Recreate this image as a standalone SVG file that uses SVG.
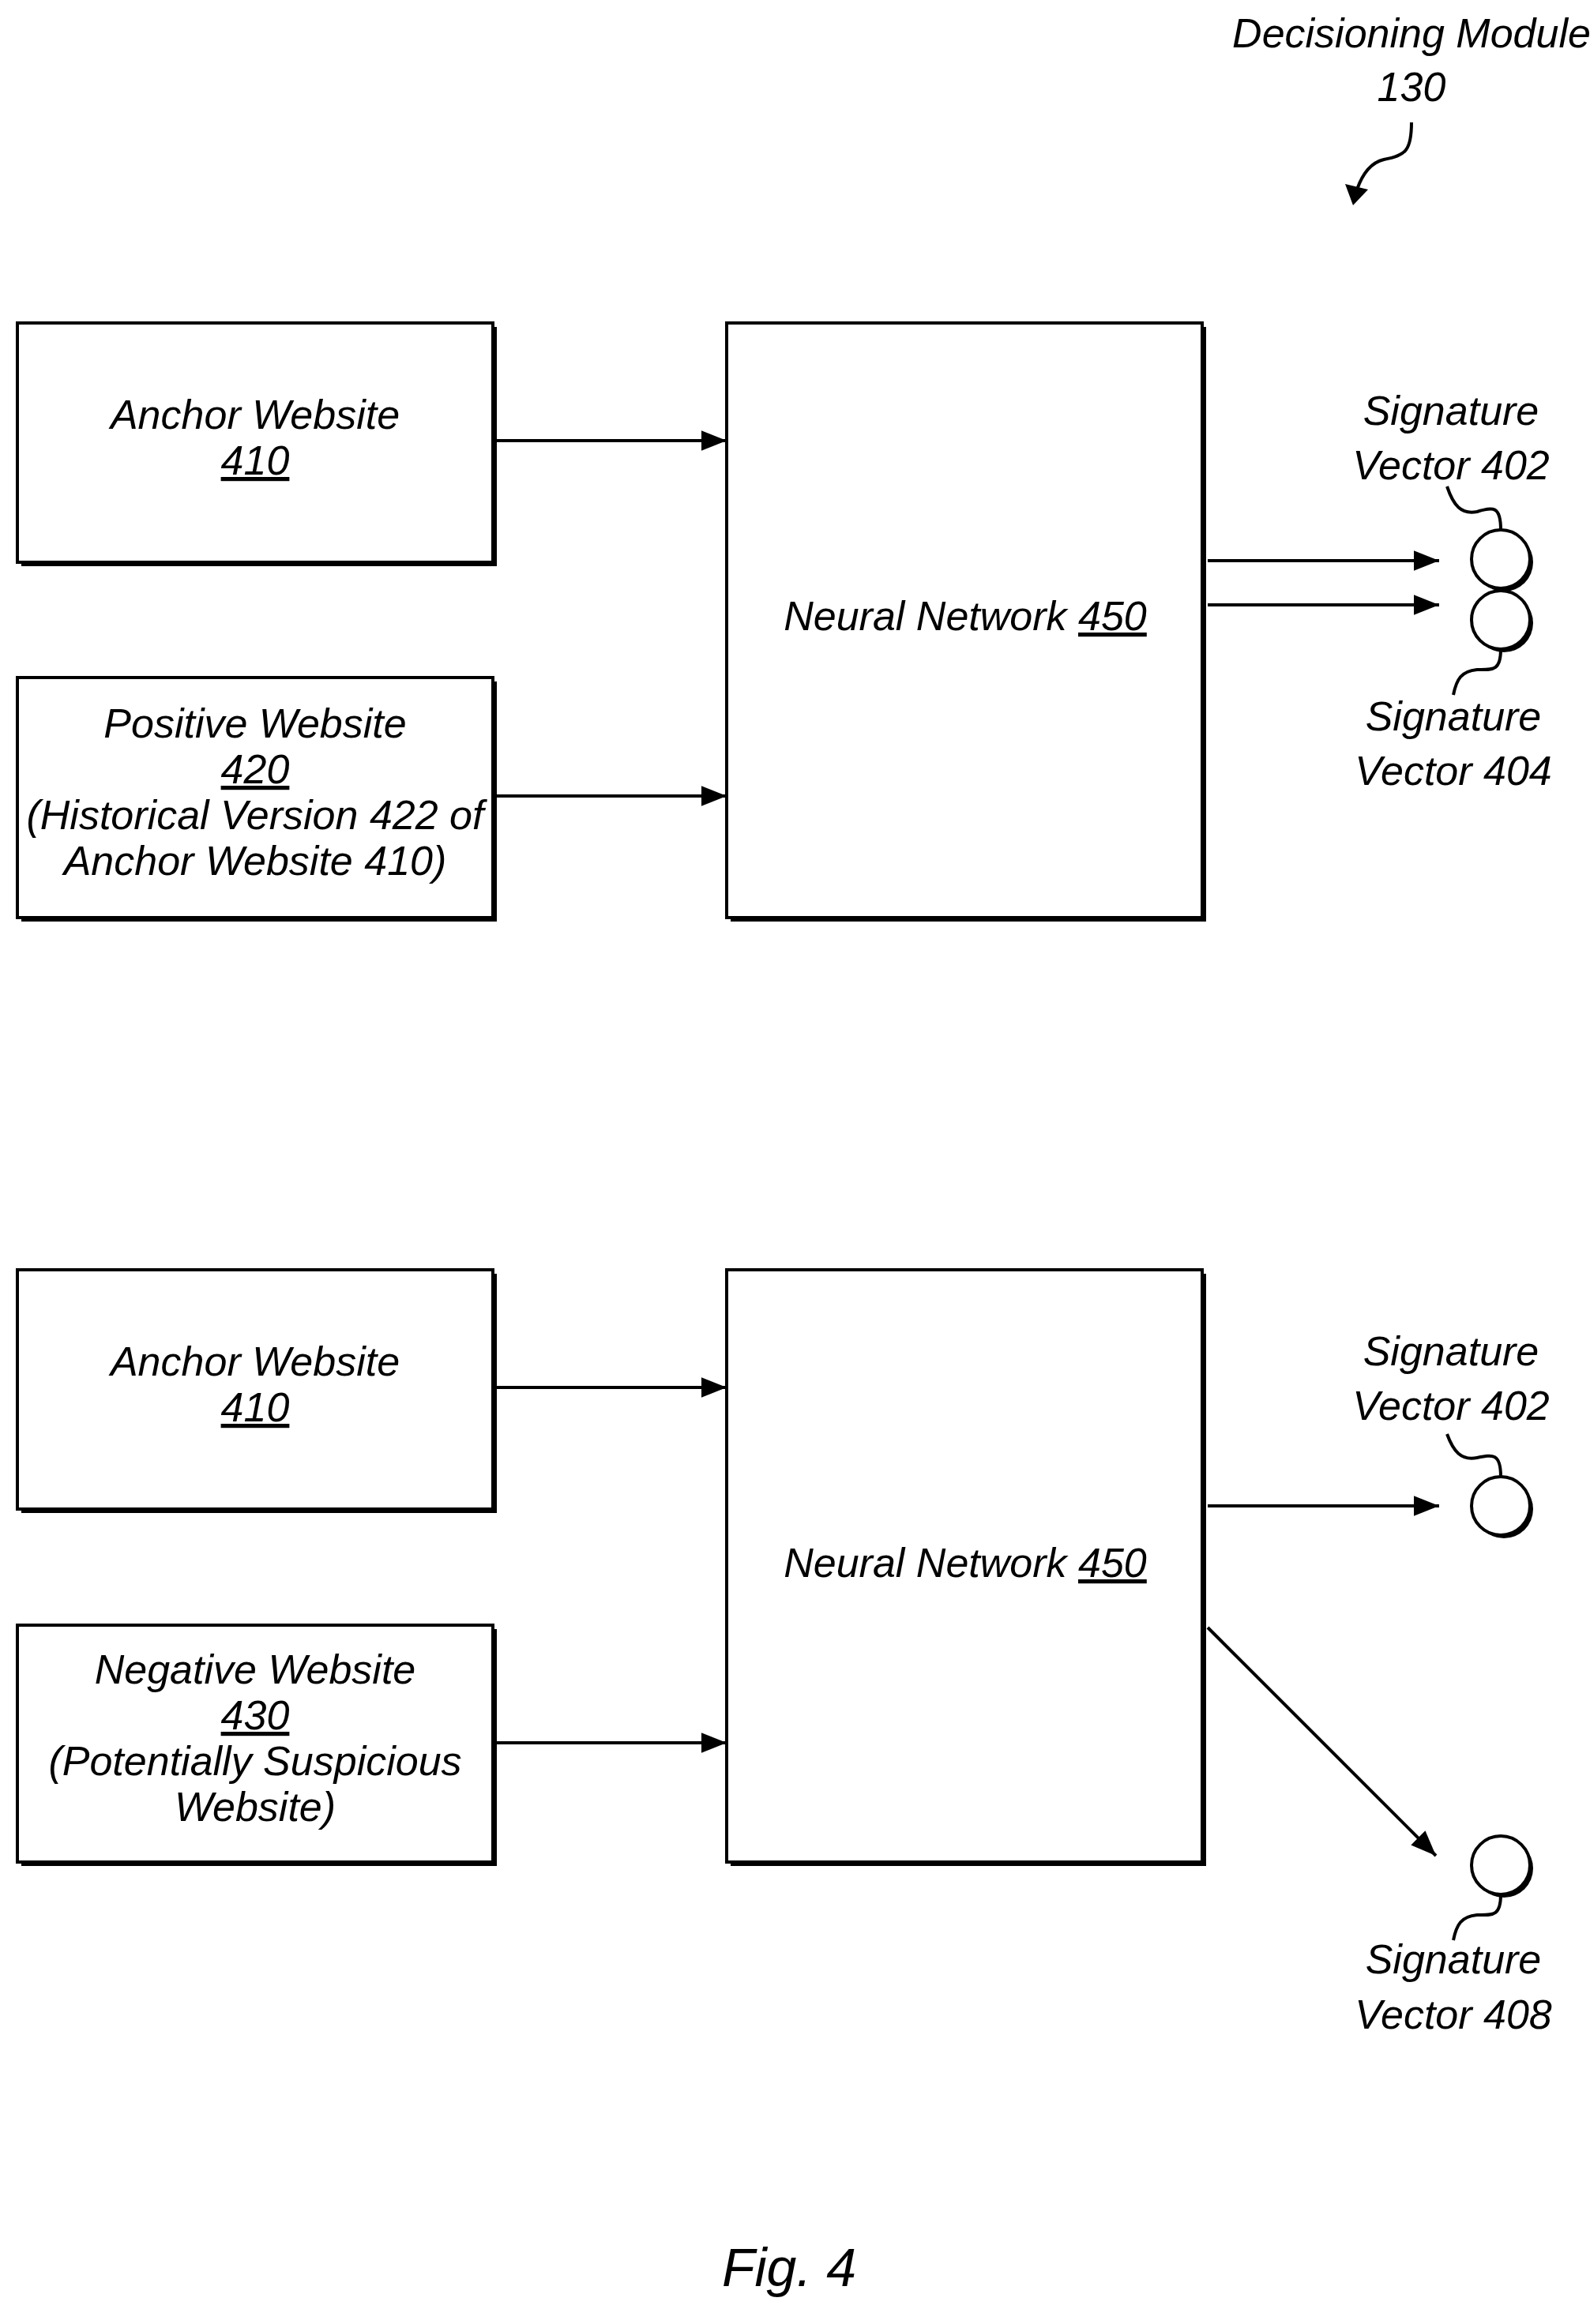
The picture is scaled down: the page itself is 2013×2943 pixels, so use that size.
<svg xmlns="http://www.w3.org/2000/svg" width="2013" height="2943" viewBox="0 0 2013 2943">
<defs>
<marker id="ah" markerWidth="10" markerHeight="8" refX="10" refY="4" orient="auto" markerUnits="userSpaceOnUse" viewBox="0 0 10 8"><path d="M0,0 L10,4 L0,8 z" fill="#000"/></marker>
<marker id="ahb" viewBox="0 0 10 8" refX="10" refY="4" markerWidth="32" markerHeight="26" orient="auto" markerUnits="userSpaceOnUse"><path d="M0,0 L10,4 L0,8 z" fill="#000"/></marker>
</defs>
<style>
text{font-family:"Liberation Sans",Arial,sans-serif;font-style:italic;font-size:52px;text-anchor:middle;fill:#000}
.box{fill:#fff;stroke:#000;stroke-width:4}
.sh{fill:#000}
.ln{stroke:#000;stroke-width:4;fill:none}
.u{text-decoration:underline}
</style>
<rect width="2013" height="2943" fill="#fff"/>
<g id="title"><text x="1787" y="60">Decisioning Module</text><text x="1787" y="128">130</text>
<path class="ln" d="M1787,155 C1787,190 1780,197 1752,202 C1735,206 1725,220 1718,240" stroke-width="5"/>
<path d="M1703,233 L1713,260 L1732,240 z" fill="#000"/></g>

<g id="anchor1"><rect class="sh" x="27" y="414" width="602" height="303"/><rect class="box" x="22" y="409" width="602" height="303"/><text x="323" y="543">Anchor Website</text><text x="323" y="601" class="u">410</text></g>
<g id="positive"><rect class="sh" x="27" y="863" width="602" height="304"/><rect class="box" x="22" y="858" width="602" height="304"/><text x="323" y="934">Positive Website</text><text x="323" y="992" class="u">420</text><text x="323" y="1050">(Historical Version 422 of</text><text x="323" y="1108">Anchor Website 410)</text></g>
<g id="nn1"><rect class="sh" x="925" y="414" width="602" height="753"/><rect class="box" x="920" y="409" width="602" height="753"/><text x="1222" y="798">Neural Network <tspan class="u">450</tspan></text></g>

<g id="anchor2"><rect class="sh" x="27" y="1613" width="602" height="303"/><rect class="box" x="22" y="1608" width="602" height="303"/><text x="323" y="1742">Anchor Website</text><text x="323" y="1800" class="u">410</text></g>
<g id="negative"><rect class="sh" x="27" y="2063" width="602" height="300"/><rect class="box" x="22" y="2058" width="602" height="300"/><text x="323" y="2132">Negative Website</text><text x="323" y="2190" class="u">430</text><text x="323" y="2248">(Potentially Suspicious</text><text x="323" y="2306">Website)</text></g>
<g id="nn2"><rect class="sh" x="925" y="1613" width="602" height="750"/><rect class="box" x="920" y="1608" width="602" height="750"/><text x="1222" y="1997">Neural Network <tspan class="u">450</tspan></text></g>

<g id="sv402a"><circle cx="1904" cy="712" r="37" class="sh"/><circle cx="1900" cy="708" r="37" class="box"/><text x="1837" y="538">Signature</text><text x="1837" y="607">Vector 402</text><path class="ln" d="M1900,671 C1900,640 1890,642 1870,648 C1850,652 1840,640 1832,616"/></g>
<g id="sv404"><circle cx="1904" cy="789" r="37" class="sh"/><circle cx="1900" cy="785" r="37" class="box"/><text x="1840" y="925">Signature</text><text x="1840" y="994">Vector 404</text><path class="ln" d="M1900,822 C1900,850 1890,848 1870,848 C1850,850 1844,860 1840,880"/></g>
<g id="sv402b"><circle cx="1904" cy="1911" r="37" class="sh"/><circle cx="1900" cy="1907" r="37" class="box"/><text x="1837" y="1729">Signature</text><text x="1837" y="1798">Vector 402</text><path class="ln" d="M1900,1870 C1900,1840 1890,1842 1870,1846 C1850,1850 1840,1838 1832,1816"/></g>
<g id="sv408"><circle cx="1904" cy="2366" r="37" class="sh"/><circle cx="1900" cy="2362" r="37" class="box"/><text x="1840" y="2499">Signature</text><text x="1840" y="2569">Vector 408</text><path class="ln" d="M1900,2399 C1900,2427 1890,2425 1870,2425 C1850,2427 1844,2437 1840,2457"/></g>

<g id="connectors">
<line class="ln" x1="629" y1="558" x2="920" y2="558" marker-end="url(#ahb)"/>
<line class="ln" x1="629" y1="1008" x2="920" y2="1008" marker-end="url(#ahb)"/>
<line class="ln" x1="1529" y1="710" x2="1822" y2="710" marker-end="url(#ahb)"/>
<line class="ln" x1="1529" y1="766" x2="1822" y2="766" marker-end="url(#ahb)"/>
<line class="ln" x1="629" y1="1757" x2="920" y2="1757" marker-end="url(#ahb)"/>
<line class="ln" x1="629" y1="2207" x2="920" y2="2207" marker-end="url(#ahb)"/>
<line class="ln" x1="1529" y1="1907" x2="1822" y2="1907" marker-end="url(#ahb)"/>
<line class="ln" x1="1529" y1="2061" x2="1818" y2="2350" marker-end="url(#ahb)"/>
</g>
<text x="999" y="2895" style="font-size:68px">Fig. 4</text>
</svg>
